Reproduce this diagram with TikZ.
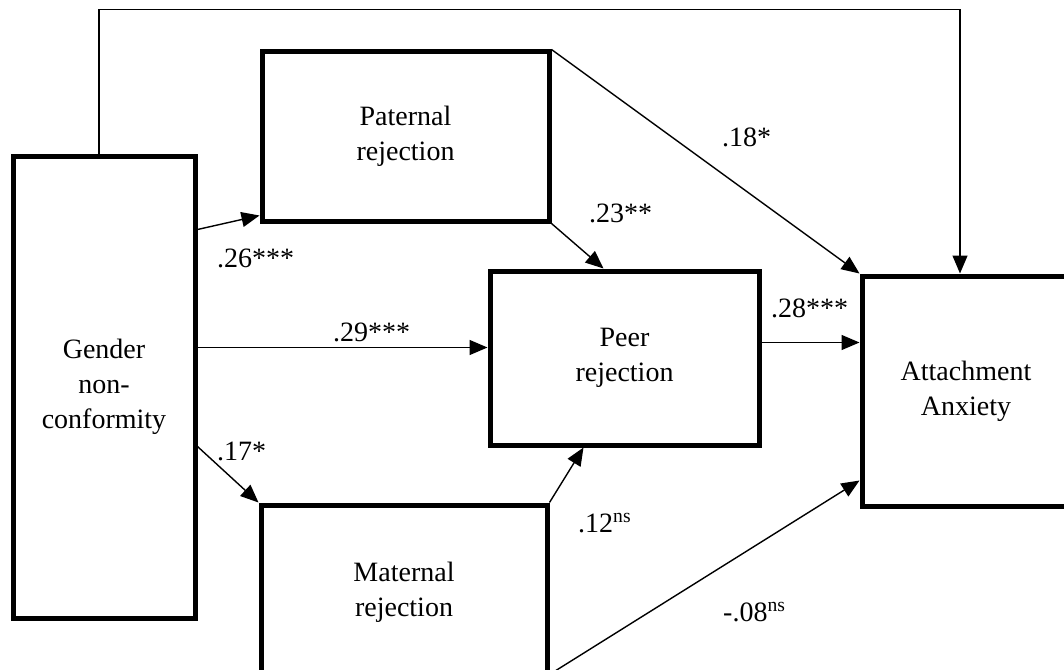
\documentclass[tikz,border=0pt]{standalone}
\usepackage{fontspec}
\setmainfont{Liberation Serif}
\usetikzlibrary{arrows.meta,calc}
\begin{document}
\begin{tikzpicture}[x=1pt,y=-1pt,
  box/.style={draw,line width=5pt,rectangle,inner sep=0pt,align=center,font=\fontsize{28}{35}\selectfont},
  arr/.style={line width=1.4pt,-{Triangle[length=18pt,width=15pt]}},
  lab/.style={anchor=base west,inner sep=0pt,font=\fontsize{28}{35}\selectfont}]
\useasboundingbox (0,0) rectangle (1064,669);
\clip (0,0) rectangle (1064,669);
% boxes
\node[box,minimum width=182pt,minimum height=462pt] (gen) at (104,387) {Gender\\non-\\conformity};
\node[box,minimum width=287pt,minimum height=169pt] (pat) at (405.5,136.5) {Paternal\\rejection};
\node[box,minimum width=269pt,minimum height=174pt] (peer) at (624.5,358) {Peer\\rejection};
\node[box,minimum width=286pt,minimum height=175pt] (mat) at (404,592.5) {Maternal\\rejection};
\node[box,minimum width=208pt,minimum height=230pt] (att) at (966,391) {Attachment\\Anxiety};
% connectors
\draw[arr] ($(gen.north)+(-5,0)$) -- ++(0,-144) -| ($(att.north)+(-6,0)$);
\draw[arr] ($(gen.north east)+(0,76)$) -- ($(pat.south west)+(0,-8)$);
\draw[arr] ($(gen.north east)+(0,194)$) coordinate (p29) -- (p29 -| peer.west);
\draw[arr] ($(gen.north east)+(0,293)$) -- (mat.north west);
\draw[arr] (pat.south east) -- ($(peer.north west)+(116,0)$);
\draw[arr] (pat.north east) -- (att.north west);
\draw[arr] ($(peer.north east)+(0,74)$) coordinate (p28) -- (p28 -| att.west);
\draw[arr] (mat.north east) -- ($(peer.south west)+(96,0)$);
\draw[arr] ($(mat.south east)+(0,-8)$) -- ($(att.north west)+(0,207)$);
% labels
\node[lab] (l26) at (217,267) {.26***};
\node[lab] (l29) at (333,341) {.29***};
\node[lab] (l17) at (217,460) {.17*};
\node[lab] (l23) at (589,222) {.23**};
\node[lab] (l18) at (722,146) {.18*};
\node[lab] (l28) at (771,317) {.28***};
\node[lab] (l12) at (578,532) {.12\textsuperscript{ns}};
\node[lab] (l08) at (723,621) {-.08\textsuperscript{ns}};
\end{tikzpicture}
\end{document}
